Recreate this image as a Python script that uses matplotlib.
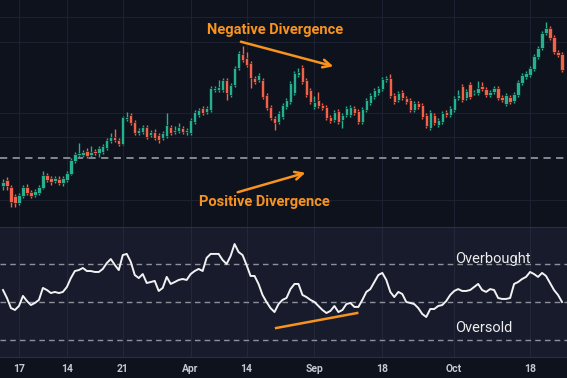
import matplotlib
matplotlib.use("Agg")
import matplotlib.pyplot as plt
from matplotlib.patches import Rectangle

plt.rcParams['font.family'] = ['Roboto', 'DejaVu Sans']

# ---------------- data ----------------
opens = [44, 50, 43, 34, 27, 34, 43, 38, 35, 37, 42, 55, 52, 49, 51, 47, 50, 56, 69, 75,
         75, 79, 75, 79, 77, 78, 82, 89, 93, 90, 86, 111, 115, 108, 97, 98, 103, 95, 98, 95,
         92, 94, 103, 98, 99, 102, 98, 97, 108, 115, 122, 118, 120, 140, 140, 140, 150, 135, 145, 162,
         176, 172, 167, 152, 150, 150, 135, 123, 112, 108, 113, 123, 128, 137, 155, 163, 150, 140, 123, 130,
         125, 123, 113, 110, 119, 110, 115, 115, 122, 119, 108, 120, 127, 133, 137, 141, 150, 152, 135, 130,
         138, 132, 130, 120, 127, 125, 115, 102, 115, 105, 108, 118, 115, 120, 132, 144, 132, 146, 137, 137,
         144, 141, 135, 138, 142, 133, 126, 133, 129, 135, 147, 153, 155, 161, 173, 182, 197, 202, 193, 178,
         176]
closes = [48, 44, 28, 27, 35, 43, 37, 34, 39, 43, 55, 50, 48, 52, 47, 52, 57, 70, 76, 77,
          78, 74, 78, 77, 82, 84, 90, 93, 90, 86, 113, 113, 107, 97, 100, 103, 93, 98, 92, 90,
          97, 105, 97, 100, 103, 98, 100, 110, 118, 120, 117, 122, 142, 142, 143, 150, 137, 145, 162, 177,
          170, 165, 152, 148, 155, 133, 122, 112, 107, 117, 125, 130, 147, 157, 158, 148, 135, 128, 128, 124,
          122, 112, 109, 118, 108, 115, 122, 123, 117, 108, 121, 130, 135, 140, 142, 151, 152, 134, 128, 137,
          132, 128, 120, 127, 123, 113, 104, 118, 107, 110, 117, 115, 122, 132, 135, 130, 139, 133, 138, 142,
          141, 135, 138, 142, 132, 130, 135, 128, 136, 148, 155, 157, 162, 174, 182, 197, 202, 192, 178, 175,
          160]
highs = [51, 53, 45, 36, 37, 45, 46, 40, 41, 45, 59, 57, 54, 54, 54, 54, 59, 72, 78, 87,
         80, 82, 84, 81, 84, 86, 92, 97, 101, 92, 114, 118, 117, 110, 102, 105, 105, 100, 101, 97,
         99, 117, 105, 104, 107, 104, 102, 112, 120, 122, 124, 124, 144, 144, 150, 152, 152, 147, 164, 179,
         184, 178, 169, 154, 157, 152, 137, 125, 114, 119, 127, 132, 149, 159, 162, 165, 152, 142, 134, 138,
         127, 125, 115, 120, 121, 117, 124, 125, 124, 121, 123, 132, 137, 142, 144, 153, 154, 156, 137, 139,
         140, 134, 132, 129, 129, 127, 117, 120, 117, 112, 119, 120, 124, 134, 140, 146, 141, 148, 140, 149,
         148, 143, 140, 144, 144, 135, 137, 135, 138, 150, 157, 159, 164, 176, 184, 199, 208, 204, 195, 180,
         178]
lows = [40, 40, 23, 23, 25, 32, 35, 32, 33, 35, 41, 48, 45, 47, 45, 44, 48, 55, 67, 73,
        73, 72, 73, 75, 73, 76, 80, 87, 88, 84, 85, 109, 105, 95, 95, 96, 91, 93, 90, 87,
        90, 92, 95, 96, 97, 96, 95, 95, 106, 113, 115, 116, 118, 138, 138, 138, 130, 133, 143, 160,
        168, 163, 142, 146, 148, 131, 120, 110, 100, 106, 111, 121, 126, 135, 153, 146, 133, 126, 121, 122,
        120, 110, 107, 108, 106, 102, 113, 113, 115, 106, 106, 118, 125, 131, 135, 139, 148, 132, 126, 128,
        130, 126, 118, 118, 121, 111, 102, 100, 105, 103, 106, 113, 113, 118, 130, 128, 130, 131, 135, 135,
        139, 133, 133, 136, 130, 128, 124, 126, 127, 133, 145, 151, 153, 159, 171, 180, 195, 190, 176, 173,
        158]
rsi = [56.3, 52.1, 46.8, 45.8, 47.9, 53.2, 50.5, 48.4, 49.5, 51.1,
       57.4, 56.3, 54.7, 55.3, 54.7, 55.3, 57.9, 62.6, 66.3, 66.8,
       67.9, 66.3, 66.3, 65.8, 65.8, 67.4, 70.5, 72.6, 69.5, 66.8,
       74.7, 75.3, 71.1, 64.2, 62.6, 64.7, 60.0, 60.5, 61.1, 55.8,
       57.4, 63.2, 59.5, 60.5, 61.6, 62.1, 61.6, 64.7, 66.3, 67.4,
       66.3, 73.2, 75.3, 75.3, 75.3, 72.1, 70.0, 74.2, 80.5, 76.3,
       74.7, 69.5, 63.7, 63.7, 59.5, 53.7, 50.0, 46.8, 44.7, 48.9,
       51.1, 52.1, 56.8, 59.5, 59.5, 53.7, 52.6, 51.1, 50.0, 47.9,
       45.8, 44.2, 45.3, 47.9, 44.7, 45.8, 48.9, 49.5, 47.4, 47.4,
       51.1, 55.3, 56.8, 60.5, 64.2, 65.3, 61.6, 55.3, 52.6, 55.3,
       54.2, 50.0, 49.5, 48.9, 46.8, 43.7, 42.1, 46.3, 46.3, 47.9,
       48.4, 50.5, 53.7, 55.8, 56.8, 55.8, 55.8, 56.3, 57.9, 59.5,
       56.3, 55.3, 56.8, 56.3, 52.1, 51.6, 51.6, 52.1, 59.5, 60.5,
       62.1, 63.2, 65.8, 64.7, 63.2, 65.3, 63.7, 60.0, 56.3, 53.7,
       50.0]
tick_idx = [4, 16, 30, 47, 61, 78, 95, 113, 132]
tick_labels = ['17', '14', '21', 'Apr', '14', 'Sep', '18', 'Oct', '18']
price_ref_level = 72
rsi_levels = [70, 50, 30]
neg_div = {'start': (58.9, 189), 'end': (83.4, 163), 'text': (68.1, 200)}
pos_div = {'start': (58.1, 37), 'end': (76.4, 58), 'text': (65.4, 28)}
rsi_div_x = [68.4, 88.7]
rsi_div_y = [36.3, 44.2]

# ---------------- style ----------------
BG = '#0e121d'
PANEL = '#171b2c'
GREEN = '#25b08f'
RED = '#f2624b'
ORANGE = '#f7931e'
GRID = '#1c2131'
DASH = '#8d919c'

W, H = 567, 378
fig = plt.figure(figsize=(W / 100, H / 100), dpi=100, facecolor=BG)
ax = fig.add_axes([0, 1 - 227 / H, 1, 227 / H], facecolor=BG)
ax2 = fig.add_axes([0, (H - 357) / H, 1, 130 / H], facecolor=PANEL)

n = len(closes)
xlim = (-0.75, 141.25)

# candles
for i in range(n):
    o, c, h, l = opens[i], closes[i], highs[i], lows[i]
    col = GREEN if c >= o else RED
    ax.vlines(i, l, h, color=col, linewidth=1.0, zorder=2)
    ax.add_patch(Rectangle((i - 0.42, min(o, c)), 0.84, max(abs(c - o), 0.9),
                           facecolor=col, edgecolor='#080a11', linewidth=0.4, zorder=3))

ax.set_xlim(*xlim)
ax.set_ylim(3, 230)
for t in tick_idx:
    ax.axvline(t, color=GRID, linewidth=0.8, zorder=0)
for gy in [213, 188, 117, 93, 30]:
    ax.axhline(gy, color=GRID, linewidth=0.8, zorder=0)
ax.axhline(price_ref_level, color=DASH, linewidth=1.3, linestyle=(0, (4, 3)), zorder=1)
ax.set_xticks([])
ax.set_yticks([])
for s in ax.spines.values():
    s.set_visible(False)

# annotations top
ax.annotate('', xy=neg_div['end'], xytext=neg_div['start'],
            arrowprops=dict(arrowstyle='->', color=ORANGE, lw=1.8, mutation_scale=14))
ax.text(*neg_div['text'], 'Negative Divergence', color=ORANGE, fontsize=10.5,
        fontweight='bold', ha='center', va='center')
ax.annotate('', xy=pos_div['end'], xytext=pos_div['start'],
            arrowprops=dict(arrowstyle='->', color=ORANGE, lw=1.8, mutation_scale=14))
ax.text(*pos_div['text'], 'Positive Divergence', color=ORANGE, fontsize=10.5,
        fontweight='bold', ha='center', va='center')

# RSI panel
ax2.set_xlim(*xlim)
ax2.set_ylim(21.05, 89.47)
for t in tick_idx:
    ax2.axvline(t, color='#22273a', linewidth=0.8, zorder=0)
for lv in rsi_levels:
    ax2.axhline(lv, color=DASH, linewidth=1.0, linestyle=(0, (4, 3)), zorder=1)
ax2.plot(range(n), rsi, color='#f2f2f2', linewidth=1.4, zorder=3)
ax2.plot(rsi_div_x, rsi_div_y, color=ORANGE, linewidth=1.8, zorder=3)
ax2.text(113.2, 72.6, 'Overbought', color='#eeeeee', fontsize=10.5, ha='left', va='center')
ax2.text(113.2, 36.3, 'Oversold', color='#eeeeee', fontsize=10.5, ha='left', va='center')

ax2.set_yticks([])
ax2.set_xticks(tick_idx)
ax2.set_xticklabels(tick_labels, color='#c5c8d2', fontsize=7.5, fontweight='bold')
ax2.tick_params(axis='x', length=0, pad=5)
for s in ax2.spines.values():
    s.set_color('#2a2f42')
    s.set_linewidth(0.8)
ax2.spines['left'].set_visible(False)
ax2.spines['right'].set_visible(False)

fig.savefig('out.png', dpi=100, facecolor=BG)
